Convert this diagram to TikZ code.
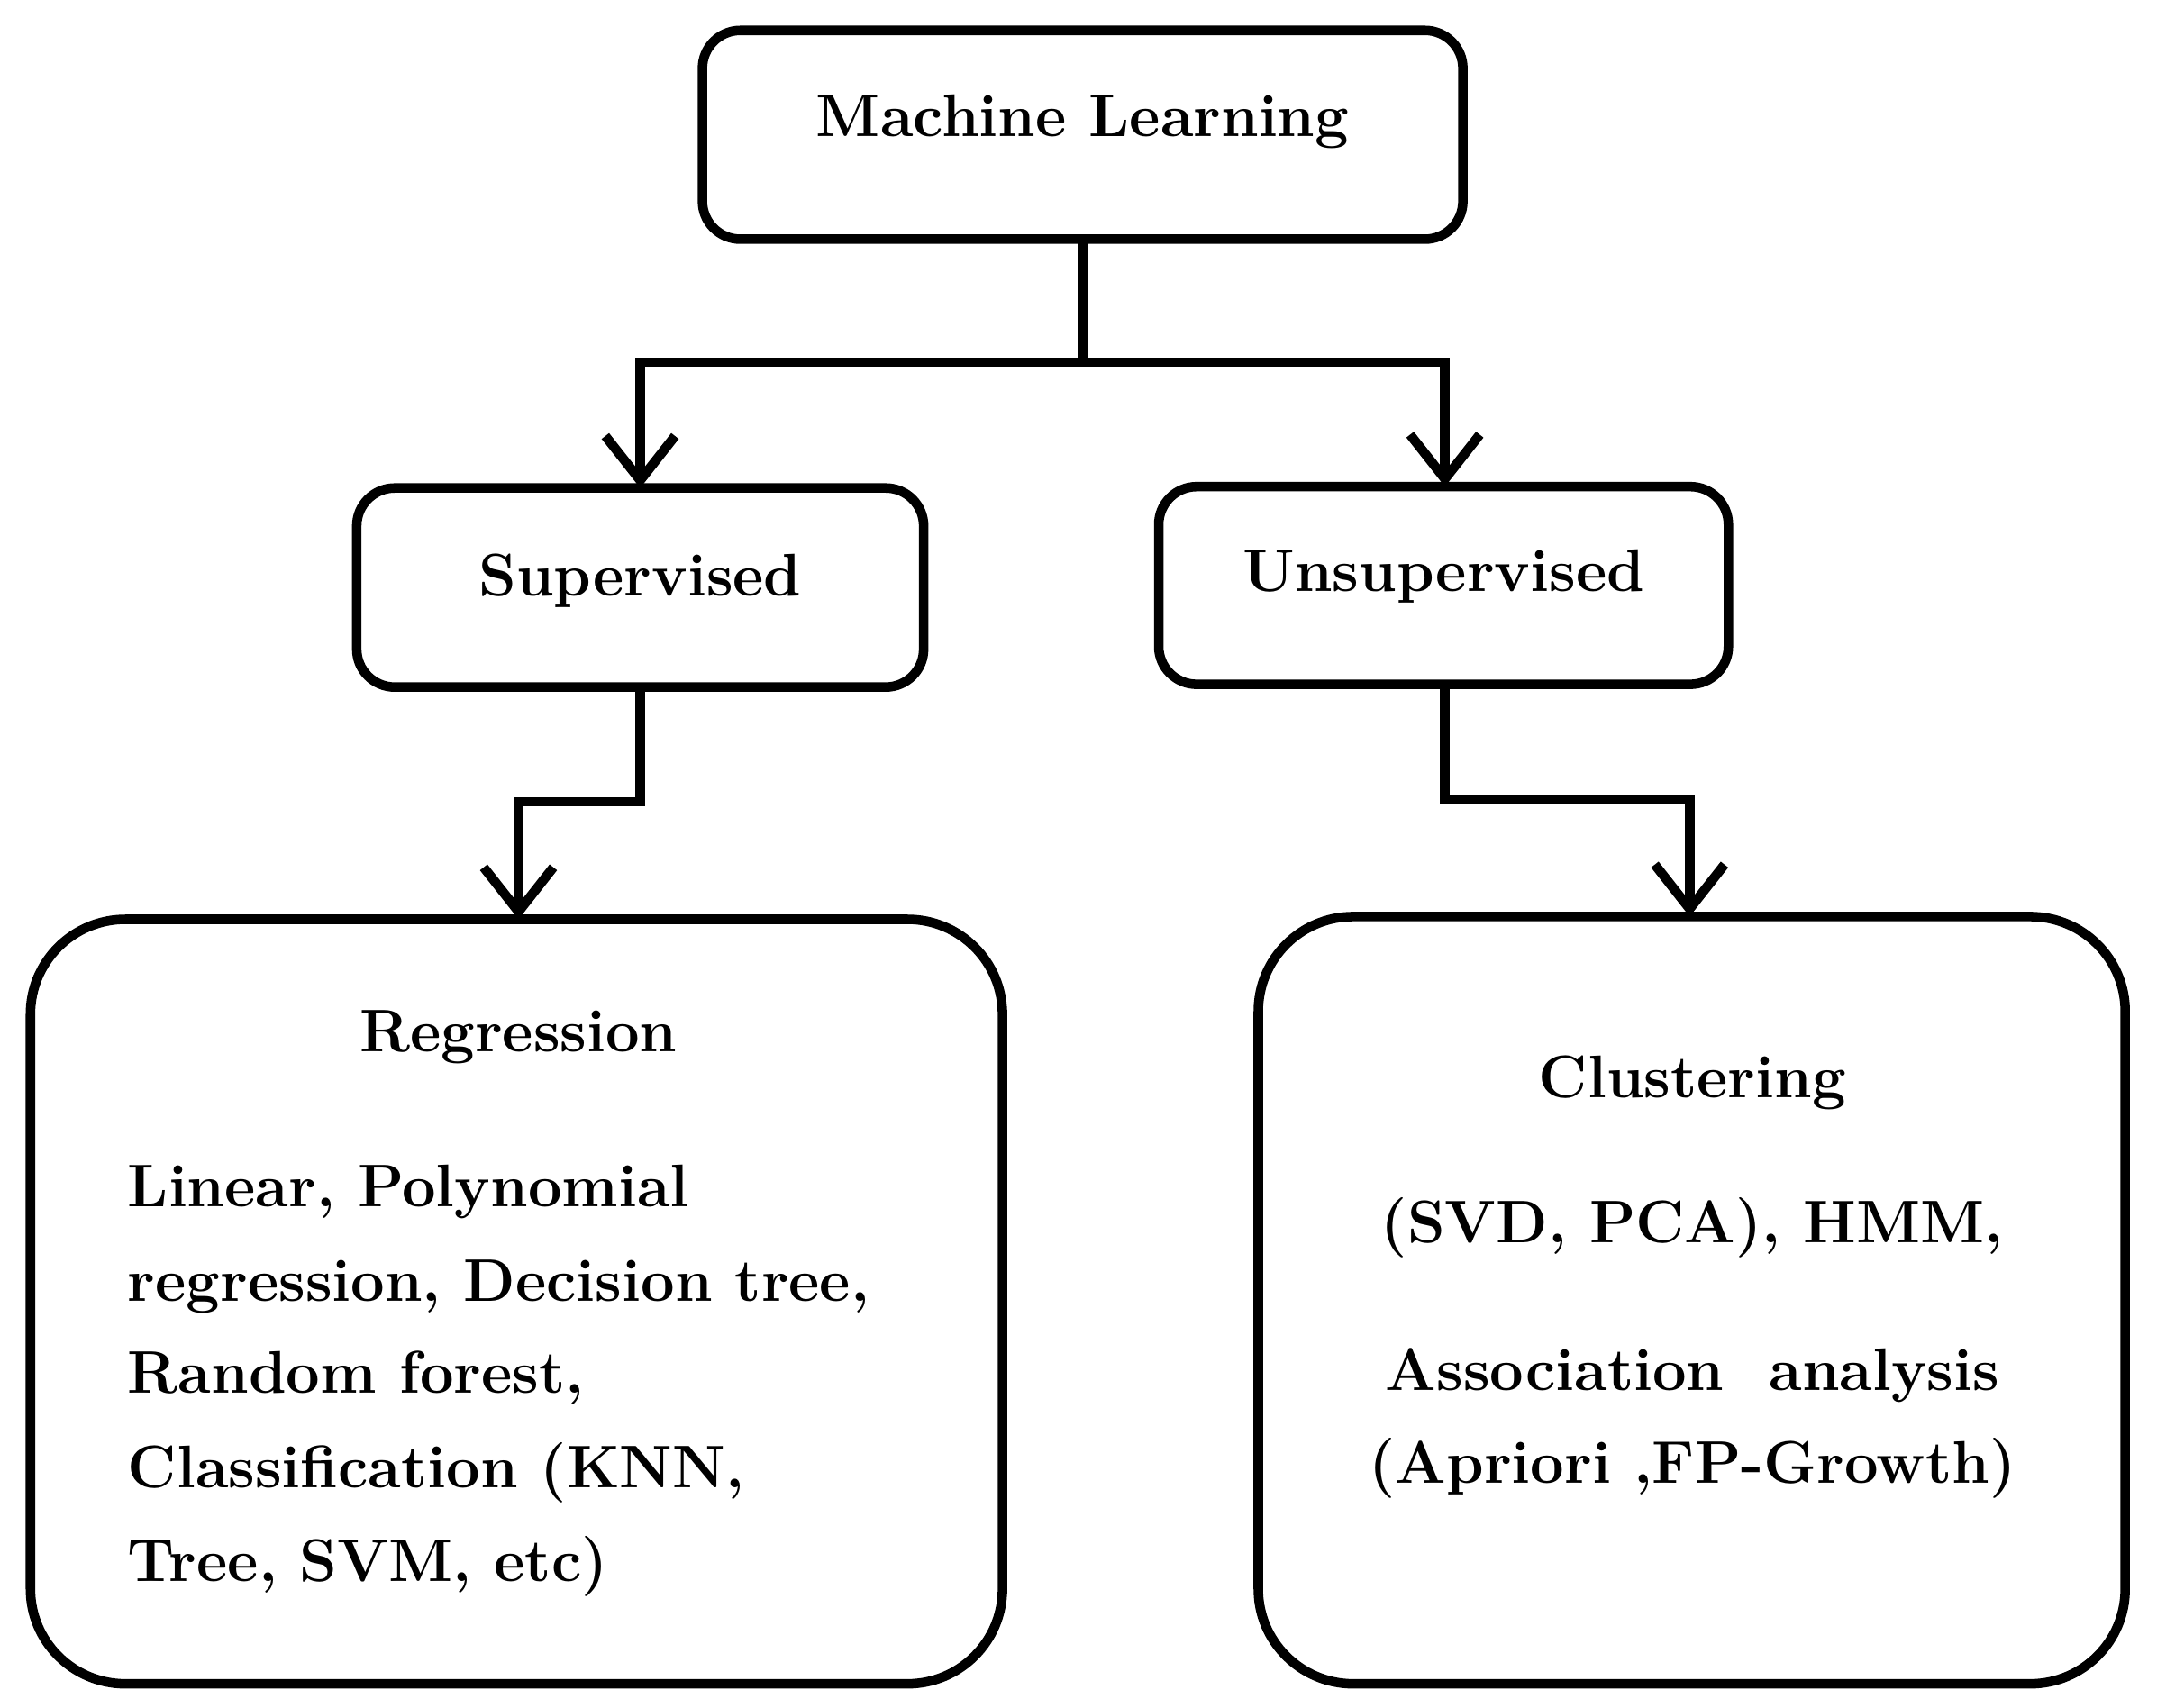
\documentclass[tikz,border=0pt]{standalone}
\usetikzlibrary{arrows.meta}
\begin{document}
\begin{tikzpicture}[x=0.01535cm,y=-0.01535cm,
  bx/.style={draw,line width=3pt,rounded corners=12pt},
  big/.style={draw,line width=3pt,rounded corners=30pt},
  ar/.style={line width=3pt,-{Straight Barb[length=14pt,width=22pt,line width=3pt]}},
  ln/.style={line width=3pt},
  t/.style={font=\fontsize{19}{23}\selectfont\bfseries,inner sep=0pt}]
\useasboundingbox (0,0) rectangle (1560,1235);
\draw[bx] (508,22) rectangle (1058,173);
\draw[bx] (258,353) rectangle (668,497);
\draw[bx] (838,352) rectangle (1250,495);
\draw[big] (22,665) rectangle (725,1218);
\draw[big] (910,663) rectangle (1537,1218);
\node[t] (ml) at (783,88) {Machine Learning};
\node[t] (sup) at (463,420) {Supervised};
\node[t] (uns) at (1044,417) {Unsupervised};
\coordinate (mlb) at (783,173);
\coordinate (j) at (783,262);
\coordinate (supt) at (463,353);
\coordinate (unst) at (1045,352);
\draw[ln] (mlb) -- (j);
\draw[ar] (j) -| (supt);
\draw[ar] (j) -| (unst);
\coordinate (supb) at (463,497);
\coordinate (regt) at (375,665);
\coordinate (unsb) at (1045,495);
\coordinate (clut) at (1222,663);
\draw[ar] (supb) -- (463,580) -| (regt);
\draw[ar] (unsb) -- (1045,578) -| (clut);
\node[t] (reg) at (375,750) {Regression};
\node[t,anchor=base west] (l1) at (92,873) {Linear, Polynomial};
\node[t,anchor=base west] (l2) at (92,941) {regression, Decision tree,};
\node[t,anchor=base west] (l3) at (92,1008) {Random forest,};
\node[t,anchor=base west] (l4) at (92,1076) {Classification (KNN,};
\node[t,anchor=base west] (l5) at (92,1144) {Tree, SVM, etc)};
\node[t] (clu) at (1224,783) {Clustering};
\node[t] (r1) at (1224,888) {(SVD, PCA), HMM,};
\node[t] (r2) at (1224,995) {Association\ \ analysis};
\node[t] (r3) at (1224,1062) {(Apriori ,FP-Growth)};
\end{tikzpicture}
\end{document}
